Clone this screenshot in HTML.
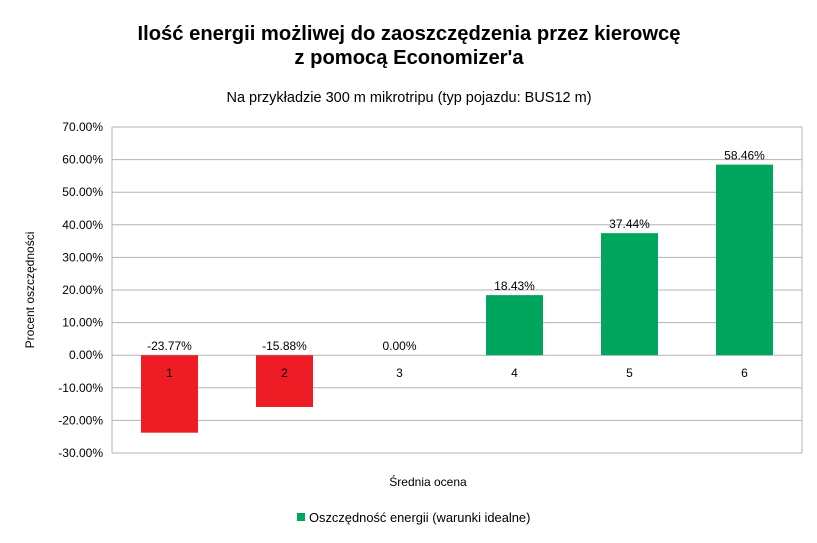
<!DOCTYPE html>
<html><head><meta charset="utf-8"><style>
body{margin:0;background:#fff;font-family:"Liberation Sans",sans-serif}
</style></head><body>
<svg width="817" height="538" xmlns="http://www.w3.org/2000/svg" font-family="Liberation Sans, sans-serif">
<rect width="817" height="538" fill="#fff"/>
<text x="409" y="40" text-anchor="middle" font-size="20.2" font-weight="bold">Ilość energii możliwej do zaoszczędzenia przez kierowcę</text>
<text x="409" y="64" text-anchor="middle" font-size="20.2" font-weight="bold">z pomocą Economizer'a</text>
<text x="409" y="102" text-anchor="middle" font-size="14.5">Na przykładzie 300 m mikrotripu (typ pojazdu: BUS12 m)</text>
<text transform="translate(34,290) rotate(-90)" text-anchor="middle" font-size="12">Procent oszczędności</text>
<text x="428" y="486" text-anchor="middle" font-size="12">Średnia ocena</text>
<g id="grid"></g><g id="bars"></g><g id="labels"></g>
<rect x="297" y="513" width="8" height="8" fill="#00a65d"/>
<text x="309" y="522" font-size="12.9">Oszczędność energii (warunki idealne)</text>
</svg>
<script>
const categories=["1","2","3","4","5","6"];
const values=[-23.77,-15.88,0.00,18.43,37.44,58.46];
const yTicks=[70,60,50,40,30,20,10,0,-10,-20,-30];
const X0=112,X1=802,Y70=127,Y30=453;
const y=v=>Y70+(70-v)*(Y30-Y70)/100;
const bw=(X1-X0)/categories.length;
const xc=i=>X0+bw*(i+0.5);
const NS="http://www.w3.org/2000/svg";
function mk(t,a,p){const e=document.createElementNS(NS,t);for(const k in a)e.setAttribute(k,a[k]);p.appendChild(e);return e;}
const g=document.getElementById('grid'),b=document.getElementById('bars'),l=document.getElementById('labels');
yTicks.forEach(t=>{
 const ln=mk('line',{x1:X0,x2:X1,y1:y(t),y2:y(t),stroke:'#b3b3b3','stroke-width':1},g);
 
 
 const tx=mk('text',{x:103,y:y(t)+4,'text-anchor':'end','font-size':12},g);
 tx.textContent=t.toFixed(2)+'%';
 
 
});
[X0,X1].forEach(xx=>{const ln=mk('line',{x1:xx,x2:xx,y1:Y70,y2:Y30,stroke:'#b3b3b3'},g);
 
 });
categories.forEach((c,i)=>{
 const v=values[i];
 const top=Math.min(y(v),y(0)),h=Math.abs(y(v)-y(0));
 const r=mk('rect',{x:xc(i)-28.5,y:top,width:57,height:h,fill:v<0?'#ee1c25':'#00a65d'},b);
 
 
 const vl=mk('text',{x:xc(i),y:(v>=0?y(v):y(0))-5,'text-anchor':'middle','font-size':12},l);
 vl.textContent=v.toFixed(2)+'%';
 
 
 const cl=mk('text',{x:xc(i),y:y(0)+22,'text-anchor':'middle','font-size':12},l);
 cl.textContent=c;
 
 
});
</script>
</body></html>
